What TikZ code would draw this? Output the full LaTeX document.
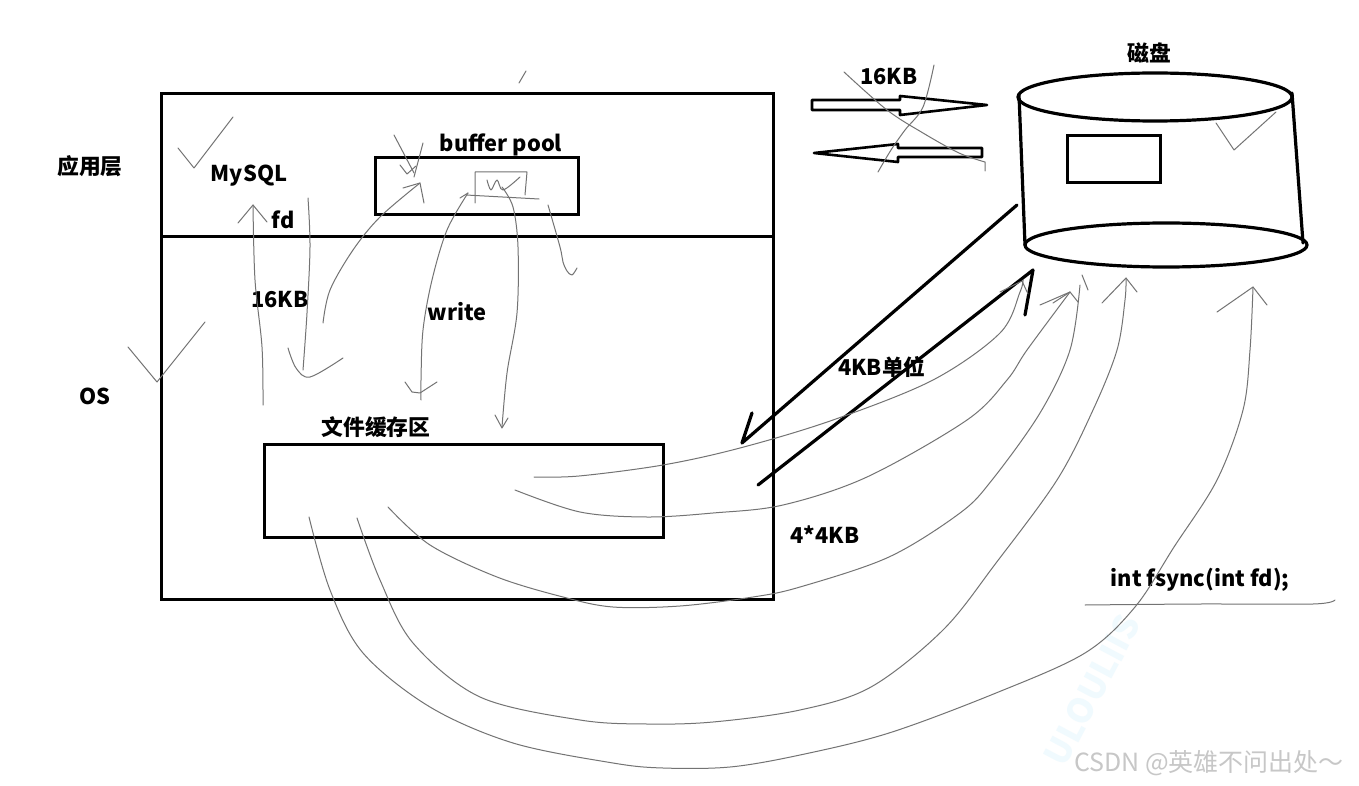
\documentclass[tikz,border=0pt]{standalone}
\usepackage{fontspec}
\setmainfont{Noto Sans CJK SC}
\begin{document}
\begin{tikzpicture}[x=1pt,y=-1pt,
  lbl/.style={font=\bfseries\fontsize{21.8}{25}\selectfont, inner sep=0pt, text=black},
  thick box/.style={draw=black, line width=3pt},
  heavy/.style={draw=black, line width=3.2pt, line cap=round, line join=round},
  pen/.style={draw=black!55, line width=1pt, line cap=round, line join=round},
  sm/.style={smooth, tension=0.55}]
\useasboundingbox[fill=white] (0,0) rectangle (1359,786);

% faint watermark
\node[rotate=62, text=cyan!6, font=\bfseries\fontsize{34}{34}\selectfont] (wm2) at (1092,690) {ULOULIIS};

% boxes
\draw[thick box] (161,94) rectangle (773,599);
\coordinate (divL) at (161,237);
\coordinate (divR) at (773,237);
\draw[thick box] (divL) -- (divR);
\draw[thick box] (375,158) rectangle (578,215);
\draw[thick box] (264,444) rectangle (663,537);

% texts
\node[lbl] (app) at (90,166) {应用层};
\node[lbl] (mysql) at (249,176) {MySQL};
\node[lbl] (fd) at (283,220) {fd};
\node[lbl] (bp) at (501,145) {buffer pool};
\node[lbl] (kbA) at (280,300) {16KB};
\node[lbl] (wr) at (457,312) {write};
\node[lbl] (os) at (95,396) {OS};
\node[lbl] (cache) at (376,427) {文件缓存区};
\node[lbl] (kb4) at (882,367) {4KB单位};
\node[lbl] (kb44) at (825,535) {4*4KB};
\node[lbl] (fsync) at (1200,580) {int fsync(int fd);};
\node[lbl] (kbB) at (889,77) {16KB};
\node[lbl] (disk) at (1149,53) {磁盘};
\node[text=black!22, font=\fontsize{25}{28}\selectfont, inner sep=0pt] (wm) at (1209,763) {CSDN @英雄不问出处～};

% disk cylinder
\draw[heavy] (1155,97) ellipse [x radius=137, y radius=24];
\draw[heavy] (1166,245) ellipse [x radius=141, y radius=22];
\draw[heavy] (1019,95) -- (1025,245);
\draw[heavy] (1292,93) -- (1303,243);
\draw[thick box] (1067,136) rectangle (1160,183);
\draw[pen] (1216,123) -- (1234,150) -- (1276,112);

% block arrows
\draw[draw=black, line width=2.6pt, line join=round] (812,100) -- (900,100) -- (900,96) -- (987,105) -- (900,115) -- (900,110) -- (812,110) -- cycle;
\draw[draw=black, line width=2.6pt, line join=round] (814,153) -- (898,144) -- (898,148) -- (982,148) -- (982,157) -- (898,157) -- (898,162) -- cycle;
\draw[pen] plot[sm] coordinates {(844,72) (887,110) (923,133) (959,153) (985,162)} -- (985,171);
\draw[pen] plot[sm] coordinates {(934,65) (923,107) (905,130) (891,150) (878,172)};

% thick diagonal arrows
\coordinate (t1s) at (1017,205);
\coordinate (t1e) at (742,443);
\draw[heavy] (t1s) -- (t1e) -- (752,413);
\coordinate (t2s) at (758,485);
\coordinate (t2e) at (1033,270);
\draw[heavy] (t2s) -- (t2e) -- (1025,315);

% sketch strokes in upper area
\draw[pen] (178,148) -- (194,168) -- (233,117);
\draw[pen] (128,347) -- (157,382) -- (205,322);
\draw[pen] (519,83) -- (526,71);
\draw[pen] plot[sm] coordinates {(263,405) (262,347) (255,280) (253,205)};
\draw[pen] (238,223) -- (253,205) -- (267,222);
\draw[pen] plot[sm] coordinates {(308,198) (310,247) (307,313) (303,370)};
\draw[pen] plot[sm] coordinates {(288,348) (296,368) (310,377) (343,358)};
\draw[pen] plot[sm] coordinates {(323,323) (330,290) (353,250) (380,217) (420,183)};
\draw[pen] (403,188) -- (420,183) -- (424,203);
\draw[pen] (394,135) -- (414,173);
\draw[pen] (423,143) -- (414,177);
\draw[pen] (400,165) -- (407,174) -- (416,166);
\draw[pen] plot[sm] coordinates {(468,193) (447,230) (432,280) (423,330) (421,380) (421,400)};
\draw[pen] (405,382) -- (412,392) -- (420,393) -- (437,382);
\draw[pen] (460,198) -- (468,193);
\draw[pen] plot[sm] coordinates {(502,187) (513,207) (518,247) (517,313) (507,373) (502,427)};
\draw[pen] (495,415) -- (502,428) -- (508,418);
\draw[pen] (475,203) -- (475,172) -- (527,172) -- (525,195);
\draw[pen] (466,195) -- (539,199);
\draw[pen] plot[sm] coordinates {(487,180) (491,190) (497,180) (503,190) (520,177)};
\draw[pen] plot[sm] coordinates {(548,205) (560,247) (563,262) (567,271) (572,275) (577,268)};

% curves from file cache to disk
\draw[pen] plot[sm] coordinates {(534,477) (579,476) (663,465) (740,448) (833,420) (933,380) (1000,333) (1020,292) (1023,280)};
\draw[pen] (1000,292) -- (1022,281) -- (1028,294);
\draw[pen] plot[sm] coordinates {(515,490) (580,512) (647,517) (713,513) (783,505) (867,477) (967,420) (1007,380) (1027,350) (1070,292)};
\draw[pen] (1040,305) -- (1070,292) -- (1078,302);
\draw[pen] (1053,303) -- (1070,292);
\draw[pen] plot[sm] coordinates {(388,507) (430,545) (497,577) (563,597) (613,607) (680,606) (753,597) (800,587) (889,557) (960,513) (992,480) (1040,413) (1070,350) (1080,285)};
\draw[pen] (1082,275) -- (1088,290);
\draw[pen] plot[sm] coordinates {(357,518) (380,580) (413,643) (480,697) (580,720) (647,724) (713,722) (800,710) (871,687) (943,630) (996,563) (1057,480) (1093,410) (1117,350) (1125,300) (1126,278)};
\draw[pen] (1102,303) -- (1126,278) -- (1137,292);
\draw[pen] plot[sm] coordinates {(309,517) (330,590) (363,653) (430,707) (513,743) (613,763) (663,768) (730,767) (800,755) (889,733) (996,693) (1085,653) (1135,607) (1174,547) (1217,480) (1243,410) (1250,350) (1253,287)};
\draw[pen] (1217,312) -- (1253,287) -- (1267,305);
% underline of fsync
\draw[pen] plot[sm] coordinates {(1085,605) (1200,604) (1313,604) (1335,600)};
\end{tikzpicture}
\end{document}
